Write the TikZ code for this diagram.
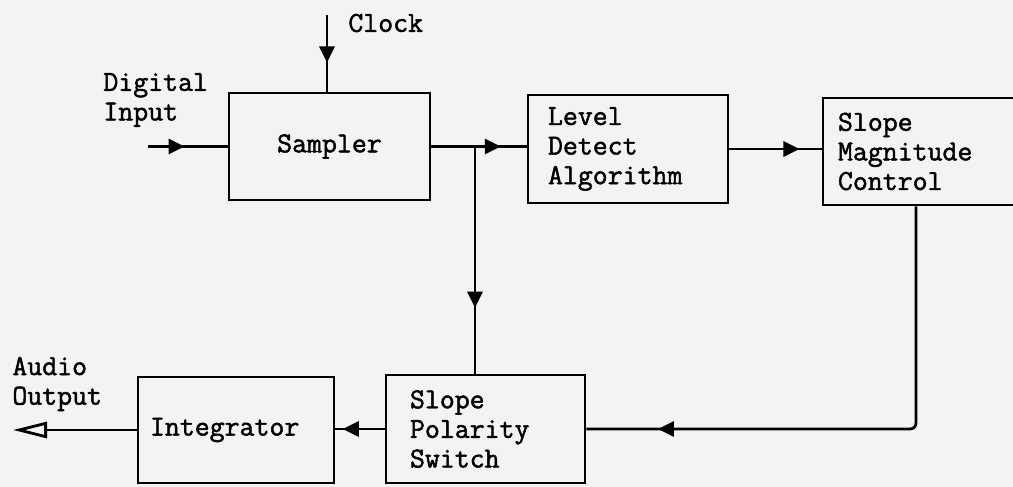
\documentclass[tikz,border=0pt]{standalone}
\usepackage{fontspec}
\setmonofont{Latin Modern Mono}[FakeBold=1.6]
\usetikzlibrary{arrows.meta,decorations.markings}
\definecolor{paper}{RGB}{243,243,243}
\tikzset{
  txt/.style={font=\ttfamily\fontsize{14.5}{14.8}\selectfont},
  blk/.style={txt, draw, line width=1.4pt, minimum height=54pt},
  lbl/.style={txt, align=left, inner sep=0pt},
  wire/.style={line width=1.4pt},
  midarrow/.style={postaction={decorate}, decoration={markings,
      mark=at position #1 with {\arrow{Triangle[length=8pt,width=7.5pt]}}}}
}
\begin{document}
\begin{tikzpicture}[x=0.5pt,y=-0.5pt]
\useasboundingbox (0,0) rectangle (1013,487);
\fill[paper] (0,0) rectangle (1013,487);
\clip (0,0) rectangle (1013,487);
% blocks
\node[blk, minimum width=100.5pt, minimum height=53.5pt] (sampler) at (329.5,146.5) {Sampler};
\node[blk, text width=80pt, inner xsep=10pt, align=left] (level) at (628,149) {Level\\Detect\\Algorithm};
\node[blk, text width=85pt, inner xsep=7.5pt, align=left, minimum height=53.5pt] (magn) at (923,151.5) {Slope\\Magnitude\\Control};
\node[blk, text width=75.5pt, inner xsep=12pt, align=left] (pol) at (485.5,429) {Slope\\Polarity\\Switch};
\node[blk, text width=86pt, inner xsep=6pt, align=left, minimum height=53pt] (integ) at (236,430) {Integrator};
% labels
\node[lbl, anchor=west] (din) at (103,100) {Digital\\Input};
\node[lbl, anchor=west] (clk) at (348,23) {Clock};
\node[lbl, anchor=west] (aout) at (12,384) {Audio\\Output};
% coordinates
\coordinate (inp) at (148,146.5);
\coordinate (clktop) at (327,15);
\coordinate (junc) at (475,146.5);
\coordinate (out) at (13,430);
\coordinate (mcol) at (916,0);
% connectors
\draw[wire, midarrow=0.46] (inp) -- (sampler.west);
\draw[wire, midarrow=0.62] (clktop) -- (clktop |- sampler.north);
\draw[wire, midarrow=0.73] (sampler.east) -- (sampler.east -| level.west);
\draw[wire, midarrow=0.71] (junc) -- (junc |- pol.north);
\draw[wire, midarrow=0.76] (level.east) -- (level.east -| magn.west);
\draw[wire, rounded corners=3pt, midarrow=0.87] (magn.south -| mcol) |- (pol.east);
\draw[wire, midarrow=0.85] (pol.west) -- (pol.west -| integ.east);
\draw[wire, -{Triangle[open,length=17pt,width=8pt]}] (integ.west) -- (integ.west -| out);
\end{tikzpicture}
\end{document}
